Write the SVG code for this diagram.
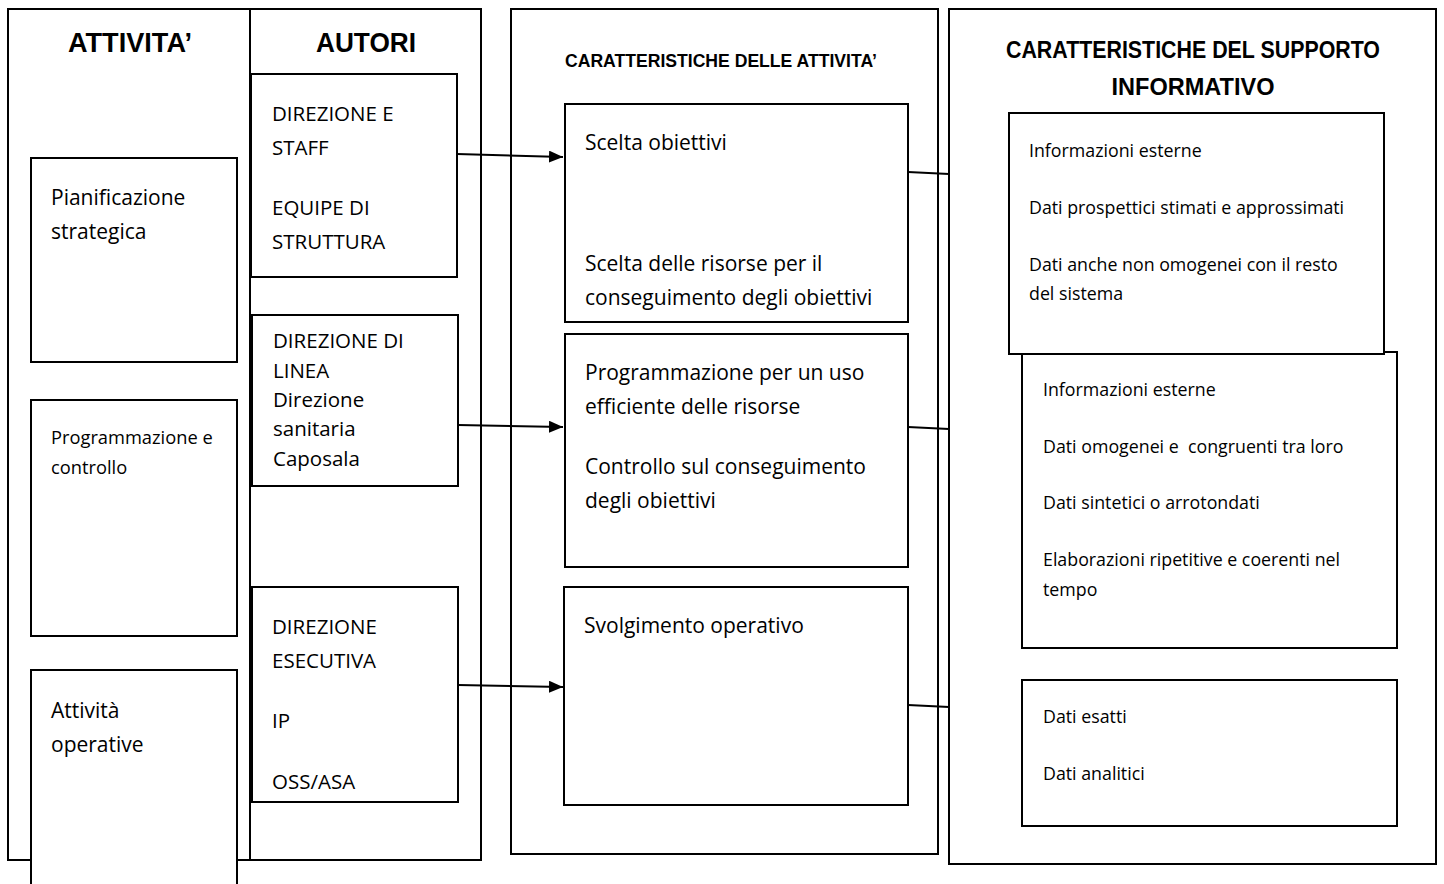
<svg xmlns="http://www.w3.org/2000/svg" width="1444" height="884" viewBox="0 0 1444 884">
<defs>
<style>
.box{fill:#fff;stroke:#000;stroke-width:2}
.h{font-family:"Liberation Sans",Arial,sans-serif;font-weight:bold;fill:#000}
.t{font-family:"Open Sans","Noto Sans",sans-serif;fill:#000}
.s21{font-size:21px}
.s20{font-size:20.5px}
.s18{font-size:18.3px}
.s17{font-size:17.8px}
.c{stroke:#000;stroke-width:2;fill:none}
</style>
<marker id="arr" markerWidth="14" markerHeight="12" refX="14" refY="6" orient="auto" markerUnits="userSpaceOnUse">
<path d="M0,0 L14,6 L0,12 Z" fill="#000"/>
</marker>
</defs>
<rect width="1444" height="884" fill="#fff"/>

<g id="col-attivita">
<rect class="box" x="8" y="9" width="242" height="851"/>
<text class="h" x="130" y="52" font-size="27" text-anchor="middle" textLength="124" lengthAdjust="spacingAndGlyphs">ATTIVITA’</text>
</g>
<g id="col-autori">
<rect class="box" x="250" y="9" width="231" height="851"/>
<text class="h" x="366" y="52" font-size="27" text-anchor="middle" textLength="100" lengthAdjust="spacingAndGlyphs">AUTORI</text>
</g>
<g id="col-caratteristiche">
<rect class="box" x="511" y="9" width="427" height="845"/>
<text class="h" x="721" y="67" font-size="18" text-anchor="middle" textLength="312" lengthAdjust="spacingAndGlyphs">CARATTERISTICHE DELLE ATTIVITA’</text>
</g>
<g id="col-supporto">
<rect class="box" x="949" y="9" width="487" height="855"/>
<text class="h" x="1193" y="58" font-size="24" text-anchor="middle" textLength="374" lengthAdjust="spacingAndGlyphs">CARATTERISTICHE DEL SUPPORTO</text>
<text class="h" x="1193" y="95" font-size="24" text-anchor="middle" textLength="163" lengthAdjust="spacingAndGlyphs">INFORMATIVO</text>
</g>

<g id="pianificazione">
<rect class="box" x="31" y="158" width="206" height="204"/>
<text class="t s21" x="51" y="205">Pianificazione</text>
<text class="t s21" x="51" y="239">strategica</text>
</g>
<g id="programmazione">
<rect class="box" x="31" y="400" width="206" height="236"/>
<text class="t s18" x="51" y="444">Programmazione e</text>
<text class="t s18" x="51" y="474">controllo</text>
</g>
<g id="operative">
<path class="box" d="M31,890 V670 H237 V890"/>
<text class="t s21" x="51" y="718">Attività</text>
<text class="t s21" x="51" y="752">operative</text>
</g>

<g id="direzione-staff">
<rect class="box" x="251" y="74" width="206" height="203"/>
<text class="t s20" x="272" y="121">DIREZIONE E</text>
<text class="t s20" x="272" y="155">STAFF</text>
<text class="t s20" x="272" y="215">EQUIPE DI</text>
<text class="t s20" x="272" y="249">STRUTTURA</text>
</g>
<g id="direzione-linea">
<rect class="box" x="252" y="315" width="206" height="171"/>
<text class="t s20" x="273" y="348">DIREZIONE DI</text>
<text class="t s20" x="273" y="378">LINEA</text>
<text class="t s20" x="273" y="407">Direzione</text>
<text class="t s20" x="273" y="436">sanitaria</text>
<text class="t s20" x="273" y="466">Caposala</text>
</g>
<g id="direzione-esecutiva">
<rect class="box" x="252" y="587" width="206" height="215"/>
<text class="t s20" x="272" y="634">DIREZIONE</text>
<text class="t s20" x="272" y="668">ESECUTIVA</text>
<text class="t s20" x="272" y="728">IP</text>
<text class="t s20" x="272" y="789">OSS/ASA</text>
</g>

<g id="scelta">
<rect class="box" x="565" y="104" width="343" height="218"/>
<text class="t s21" x="585" y="150">Scelta obiettivi</text>
<text class="t s21" x="585" y="271">Scelta delle risorse per il</text>
<text class="t s21" x="585" y="305">conseguimento degli obiettivi</text>
</g>
<g id="programmazione-uso">
<rect class="box" x="565" y="334" width="343" height="233"/>
<text class="t s21" x="585" y="380">Programmazione per un uso</text>
<text class="t s21" x="585" y="414">efficiente delle risorse</text>
<text class="t s21" x="585" y="474">Controllo sul conseguimento</text>
<text class="t s21" x="585" y="508">degli obiettivi</text>
</g>
<g id="svolgimento">
<rect class="box" x="564" y="587" width="344" height="218"/>
<text class="t s21" x="584" y="633">Svolgimento operativo</text>
</g>

<g id="supporto-linea">
<rect class="box" x="1022" y="352" width="375" height="296"/>
<text class="t s17" x="1043" y="396">Informazioni esterne</text>
<text class="t s17" x="1043" y="453" xml:space="preserve">Dati omogenei e  congruenti tra loro</text>
<text class="t s17" x="1043" y="509">Dati sintetici o arrotondati</text>
<text class="t s17" x="1043" y="566">Elaborazioni ripetitive e coerenti nel</text>
<text class="t s17" x="1043" y="596">tempo</text>
</g>
<g id="supporto-strategico">
<rect class="box" x="1009" y="113" width="375" height="241"/>
<text class="t s17" x="1029" y="157">Informazioni esterne</text>
<text class="t s17" x="1029" y="214">Dati prospettici stimati e approssimati</text>
<text class="t s17" x="1029" y="271">Dati anche non omogenei con il resto</text>
<text class="t s17" x="1029" y="300">del sistema</text>
</g>
<g id="supporto-operativo">
<rect class="box" x="1022" y="680" width="375" height="146"/>
<text class="t s17" x="1043" y="723">Dati esatti</text>
<text class="t s17" x="1043" y="780">Dati analitici</text>
</g>

<g id="connectors">
<line class="c" x1="457" y1="154" x2="563" y2="157" marker-end="url(#arr)"/>
<line class="c" x1="458" y1="425" x2="563" y2="427" marker-end="url(#arr)"/>
<line class="c" x1="458" y1="685" x2="563" y2="687" marker-end="url(#arr)"/>
<line class="c" x1="908" y1="172" x2="949" y2="174"/>
<line class="c" x1="908" y1="427" x2="949" y2="429"/>
<line class="c" x1="908" y1="705" x2="949" y2="707"/>
</g>
</svg>
